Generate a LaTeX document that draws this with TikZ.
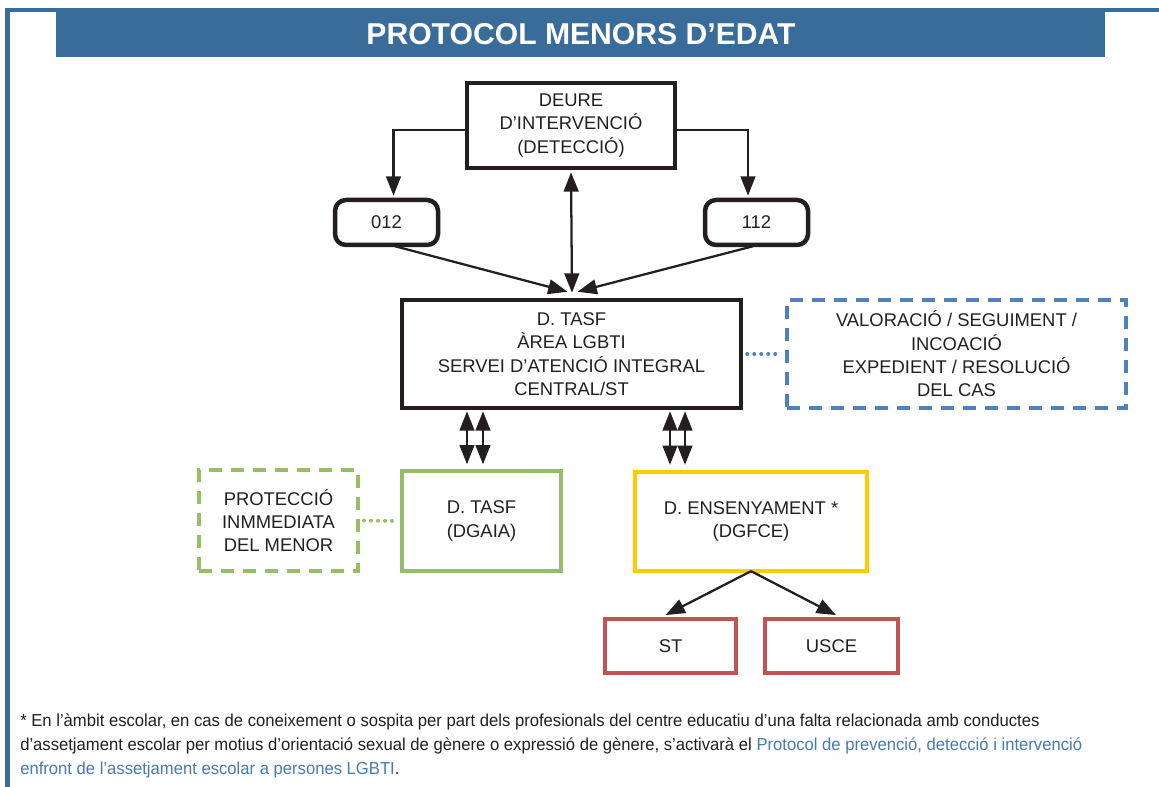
\documentclass[tikz,border=0pt]{standalone}
\usepackage{fontspec}
\setmainfont{Liberation Sans}
\newfontfamily\notefont{Liberation Sans}[FakeStretch=0.96]
\usetikzlibrary{arrows.meta}
\definecolor{bannerblue}{RGB}{57,108,153}
\definecolor{dashblue}{RGB}{79,129,189}
\definecolor{boxgreen}{RGB}{150,190,100}
\definecolor{boxyellow}{RGB}{255,204,0}
\definecolor{boxred}{RGB}{192,84,82}
\definecolor{linkblue}{RGB}{72,122,176}
\definecolor{ink}{RGB}{35,31,32}
\newdimen\px \px=0.75pt
\tikzset{
  boxtext/.style={font=\fontsize{13.8}{17.5}\selectfont, text=ink, align=center, inner sep=0pt},
  blackbox/.style={boxtext, draw=ink, line width=4.5\px},
  roundbox/.style={blackbox, rounded corners=11\px},
  colbox/.style={boxtext, draw=#1, line width=3.8\px},
  dashbox/.style={boxtext, draw=#1, line width=4\px, dash pattern=on 9.75pt off 6.75pt},
  arr/.style={draw=ink, line width=1.7pt, -{Triangle[length=14.5pt,width=11pt]}},
  darr/.style={draw=ink, line width=1.7pt, {Triangle[length=14.5pt,width=11pt]}-{Triangle[length=14.5pt,width=11pt]}},
  dotline/.style={draw=#1, line width=3pt, line cap=round, dash pattern=on 0pt off 5.25pt},
}
\begin{document}
\begin{tikzpicture}[x=0.75pt,y=-0.75pt]
\useasboundingbox (0,0) rectangle (1159,787);
% frame and banner
\fill[bannerblue] (5,8) rectangle (1159,12);
\fill[bannerblue] (5,8) rectangle (10,787);
\fill[bannerblue] (56,8) rectangle (1105,57);
\node[font=\fontsize{22.6}{26}\bfseries\selectfont, text=white] (title) at (581,34) {PROTOCOL MENORS D’EDAT};
% boxes
\node[blackbox, minimum width=208\px, minimum height=85\px] (deure) at (571,125.5) {DEURE\\D’INTERVENCIÓ\\(DETECCIÓ)};
\node[roundbox, minimum width=103\px, minimum height=45\px] (n012) at (386.5,222.5) {012};
\node[roundbox, minimum width=103\px, minimum height=45\px] (n112) at (756.5,222.5) {112};
\node[blackbox, minimum width=339\px, minimum height=108\px] (tasf) at (571.5,354) {D. TASF\\ÀREA LGBTI\\SERVEI D’ATENCIÓ INTEGRAL\\CENTRAL/ST};
\node[dashbox=dashblue, minimum width=339\px, minimum height=108\px] (valor) at (956.5,354) {VALORACIÓ / SEGUIMENT /\\INCOACIÓ\\EXPEDIENT / RESOLUCIÓ\\DEL CAS};
\node[colbox=boxgreen, minimum width=159.5\px, minimum height=99.5\px] (dgaia) at (481.5,521) {D. TASF\\(DGAIA)};
\node[dashbox=boxgreen, minimum width=159\px, minimum height=101\px] (prot) at (278.5,520.5) {PROTECCIÓ\\INMMEDIATA\\DEL MENOR};
\node[colbox=boxyellow, minimum width=231.5\px, minimum height=99.5\px] (dgfce) at (751,521.5) {D. ENSENYAMENT *\\(DGFCE)};
\node[colbox=boxred, minimum width=131\px, minimum height=54\px] (st) at (670.5,646) {ST};
\node[colbox=boxred, minimum width=133\px, minimum height=54\px] (usce) at (831.5,646) {USCE};
% connectors top
\coordinate (dl) at ([yshift=-4.5\px]deure.west);
\coordinate (dr) at ([yshift=-4.5\px]deure.east);
\coordinate (t012) at ([xshift=7\px,yshift=2\px]n012.north);
\coordinate (t112) at ([xshift=-8.5\px,yshift=2\px]n112.north);
\draw[arr] (dl) -| (t012);
\draw[arr] (dr) -| (t112);
\coordinate (tc) at ([xshift=0.5\px,yshift=5\px]tasf.north);
\draw[darr] ([yshift=-2\px]deure.south) -- (tc);
\draw[arr] ([xshift=8.5\px,yshift=1\px]n012.south) -- ([xshift=-4\px,yshift=6\px]tasf.north);
\draw[arr] ([xshift=-3.5\px,yshift=1\px]n112.south) -- ([xshift=6\px,yshift=6\px]tasf.north);
% dotted links
\draw[dotline=dashblue] ([xshift=4\px]tasf.east) -- ([xshift=-3\px]valor.west);
\draw[dotline=boxgreen] ([xshift=4\px]prot.east) -- ([xshift=-3\px]dgaia.west);
% double arrows below tasf
\coordinate (g1) at ([xshift=-14.5\px,yshift=5\px]dgaia.north);
\coordinate (g2) at ([xshift=1.5\px,yshift=5\px]dgaia.north);
\coordinate (y1) at ([xshift=-81\px,yshift=5\px]dgfce.north);
\coordinate (y2) at ([xshift=-66\px,yshift=5\px]dgfce.north);
\foreach \c in {g1,g2,y1,y2}{
  \coordinate (top\c) at (\c |- tasf.south);
  \draw[darr] ([yshift=-1\px]top\c) -- (\c);
}
% lower arrows
\draw[arr] ([yshift=2\px]dgfce.south) -- ([xshift=-5\px,yshift=2\px]st.north);
\draw[arr] ([yshift=2\px]dgfce.south) -- ([xshift=4.5\px,yshift=2\px]usce.north);
% footnote
\node[anchor=north west, inner sep=0pt, align=left, text=ink, font=\notefont\fontsize{13}{18}\selectfont] (note) at (20,713)
{* En l’àmbit escolar, en cas de coneixement o sospita per part dels profesionals del centre educatiu d’una falta relacionada amb conductes\\
d’assetjament escolar per motius d’orientació sexual de gènere o expressió de gènere, s’activarà el \textcolor{linkblue}{Protocol de prevenció, detecció i intervenció}\\
\textcolor{linkblue}{enfront de l’assetjament escolar a persones LGBTI}.};
\end{tikzpicture}
\end{document}
